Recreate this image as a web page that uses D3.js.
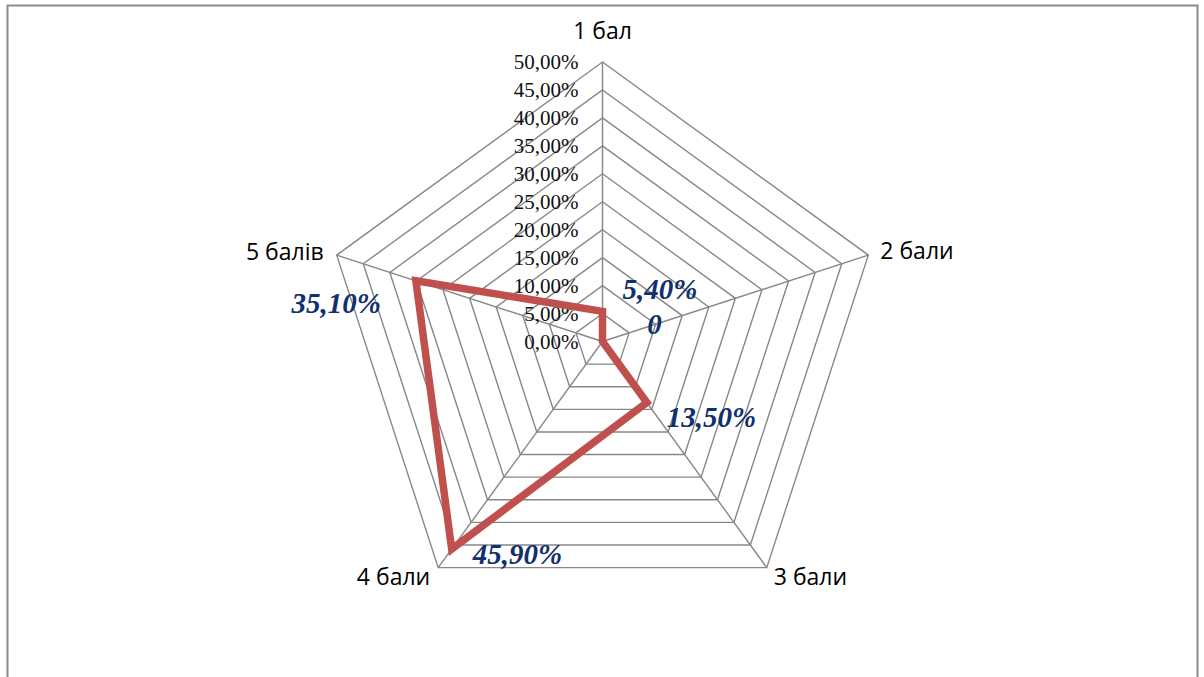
<!DOCTYPE html>
<html>
<head>
<meta charset="utf-8">
<script src="https://cdn.jsdelivr.net/npm/d3@7"></script>
<style>
  html, body { margin: 0; padding: 0; background: #fff; }
  svg { display: block; }
</style>
</head>
<body>
<svg id="chart" width="1204" height="677"></svg>
<script>
const categories = ["1 бал", "2 бали", "3 бали", "4 бали", "5 балів"];
const values = [5.4, 0, 13.5, 45.9, 35.1];
const valueLabels = ["5,40%", "0", "13,50%", "45,90%", "35,10%"];
const tickValues = [0, 5, 10, 15, 20, 25, 30, 35, 40, 45, 50];
const tickLabels = ["0,00%", "5,00%", "10,00%", "15,00%", "20,00%", "25,00%", "30,00%", "35,00%", "40,00%", "45,00%", "50,00%"];

const svg = d3.select("#chart");
const cx = 602.5, cy = 341.5, R = 279.5;

// outer frame
svg.append("rect")
  .attr("x", 7.5).attr("y", 5.5)
  .attr("width", 1190).attr("height", 700)
  .attr("fill", "none").attr("stroke", "#8c8c8c").attr("stroke-width", 2);

const r = d3.scaleLinear().domain([0, 50]).range([0, R]);
const angle = d3.scalePoint().domain(categories).range([0, 2 * Math.PI * 4 / 5]);
const pt = (cat, v) => {
  const a = angle(cat);
  return [cx + r(v) * Math.sin(a), cy - r(v) * Math.cos(a)];
};

const g = svg.append("g");
const gridColor = "#878787";

// grid pentagons
tickValues.forEach(t => {
  if (t === 0) return;
  const pts = categories.map(c => pt(c, t));
  g.append("path")
    .attr("d", d3.line()(pts) + "Z")
    .attr("fill", "none").attr("stroke", gridColor).attr("stroke-width", 1.4);
});
// spokes
categories.forEach(c => {
  const [x, y] = pt(c, 50);
  g.append("line")
    .attr("x1", cx).attr("y1", cy).attr("x2", x).attr("y2", y)
    .attr("stroke", gridColor).attr("stroke-width", 1.4);
});

// tick labels
g.selectAll("text.tick").data(tickValues).enter().append("text")
  .attr("class", "tick")
  .attr("x", cx - 24)
  .attr("y", d => cy - r(d) + 7)
  .attr("text-anchor", "end")
  .attr("font-family", "'Liberation Serif', 'Times New Roman', serif")
  .attr("font-size", 21)
  .attr("fill", "#111")
  .text((d, i) => tickLabels[i]);

// category labels
const catOffsets = [
  {dx: 0, dy: -23, anchor: "middle"},
  {dx: 12, dy: 4, anchor: "start"},
  {dx: 7, dy: 17, anchor: "start"},
  {dx: -8, dy: 17, anchor: "end"},
  {dx: -13, dy: 5, anchor: "end"}
];
categories.forEach((c, i) => {
  const [x, y] = pt(c, 50);
  g.append("text")
    .attr("x", x + catOffsets[i].dx).attr("y", y + catOffsets[i].dy)
    .attr("text-anchor", catOffsets[i].anchor)
    .attr("font-family", "'Open Sans', 'Liberation Sans', sans-serif")
    .attr("font-size", 23)
    .attr("fill", "#000")
    .text(c);
});

// data line
const dataPts = categories.map((c, i) => pt(c, values[i]));
g.append("path")
  .attr("d", d3.line()(dataPts) + "Z")
  .attr("fill", "none").attr("stroke", "#C0504D")
  .attr("stroke-width", 7.5).attr("stroke-linejoin", "miter");

// data labels
const lblOffsets = [
  {dx: 20, dy: -12, anchor: "start"},
  {dx: 52, dy: -8, anchor: "middle"},
  {dx: 20, dy: 24, anchor: "start"},
  {dx: 21, dy: 15, anchor: "start"},
  {dx: -35, dy: 32, anchor: "end"}
];
categories.forEach((c, i) => {
  const [x, y] = dataPts[i];
  g.append("text")
    .attr("x", x + lblOffsets[i].dx).attr("y", y + lblOffsets[i].dy)
    .attr("text-anchor", lblOffsets[i].anchor)
    .attr("font-family", "'Liberation Serif', 'Times New Roman', serif")
    .attr("font-size", 29)
    .attr("font-weight", "bold")
    .attr("font-style", "italic")
    .attr("fill", "#10306e")
    .text(valueLabels[i]);
});
</script>
</body>
</html>
